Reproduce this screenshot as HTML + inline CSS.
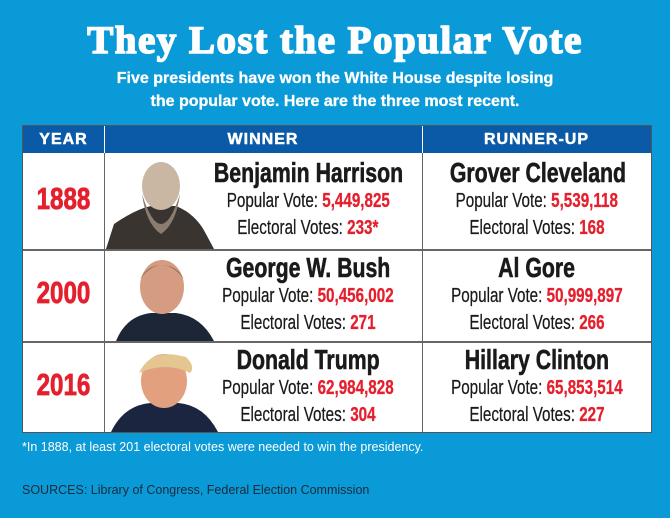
<!DOCTYPE html>
<html><head><style>
body{margin:0;width:670px;height:518px;background:#0a9ad8;font-family:"Liberation Sans",sans-serif;position:relative;overflow:hidden}
.abs{position:absolute}
.title{left:0;width:670px;top:18px;text-align:center;color:#fff;font-family:"Liberation Serif",serif;font-weight:bold;font-size:39px;letter-spacing:1.5px;-webkit-text-stroke:1.6px #fff}
.sub{left:0;width:670px;top:67px;text-align:center;color:#fff;font-weight:bold;font-size:16px;line-height:23px;-webkit-text-stroke:.3px #fff}
.tbl{left:22px;top:125px;width:628px;height:306px;background:#fff;border:1px solid #555}
.hdr{left:0;top:0;width:628px;height:27px;background:#0a5aa8}
.h{top:5px;color:#fff;font-weight:bold;font-size:16px;text-align:center;letter-spacing:1px;-webkit-text-stroke:.5px #fff}
.vl{width:1px;background:#666}
.hl{height:2px;background:#666;left:0;width:628px}
.yr{color:#e5202e;font-weight:bold;font-size:31px;text-align:center;width:81px;left:0;-webkit-text-stroke:.8px #e5202e}
.c{text-align:center;white-space:nowrap}
.c span{display:inline-block;transform:scaleX(.76);transform-origin:center}
.nm{font-weight:bold;font-size:28px;color:#1a1a1a;line-height:30px;-webkit-text-stroke:.6px #1a1a1a}
.ln{font-size:20px;color:#1a1a1a;line-height:27px;-webkit-text-stroke:.25px #1a1a1a}
.r{color:#e5202e;font-weight:bold;-webkit-text-stroke:.3px #e5202e}
</style></head><body>
<div class="abs title">They Lost the Popular Vote</div>
<div class="abs sub">Five presidents have won the White House despite losing<br>the popular vote. Here are the three most recent.</div>
<div class="abs tbl">
 <div class="abs hdr"></div>
 <div class="abs h" style="left:0;width:81px">YEAR</div>
 <div class="abs h" style="left:81px;width:318px">WINNER</div>
 <div class="abs h" style="left:399px;width:229px">RUNNER-UP</div>
 <div class="abs vl" style="left:81px;top:0;height:306px;background:#fff;width:1px"></div>
 <div class="abs vl" style="left:81px;top:27px;height:279px"></div>
 <div class="abs vl" style="left:399px;top:0;height:27px;background:#fff"></div>
 <div class="abs vl" style="left:399px;top:27px;height:279px"></div>
 <div class="abs hl" style="top:123px"></div>
 <div class="abs hl" style="top:215px"></div>
 <div class="abs yr" style="top:55px"><span style="display:inline-block;transform:scaleX(.78)">1888</span></div>
 <div class="abs yr" style="top:149px"><span style="display:inline-block;transform:scaleX(.78)">2000</span></div>
 <div class="abs yr" style="top:241px"><span style="display:inline-block;transform:scaleX(.78)">2016</span></div>
 <svg class="abs" style="left:83px;top:28px" width="116" height="95">
  <path d="M0 95 L8 70 Q30 55 45 52 L70 52 Q90 60 100 80 L108 95Z" fill="#3a3430"/>
  <ellipse cx="55" cy="32" rx="19" ry="24" fill="#c9b7a3"/>
  <path d="M36 40 Q55 100 74 40 Q70 70 55 80 Q40 70 36 40Z" fill="#8a7d70"/>
 </svg>
 <svg class="abs" style="left:83px;top:125px" width="116" height="90">
  <path d="M10 90 Q20 65 45 62 L70 62 Q95 65 108 90Z" fill="#1c2636"/>
  <ellipse cx="56" cy="36" rx="22" ry="27" fill="#d59c82"/>
  <path d="M34 28 Q56 0 78 28 Q70 14 56 14 Q42 14 34 28Z" fill="#7a6a5e"/>
 </svg>
 <svg class="abs" style="left:83px;top:217px" width="116" height="89">
  <path d="M5 89 Q18 62 45 60 L72 60 Q98 62 112 89Z" fill="#1b2540"/>
  <ellipse cx="58" cy="38" rx="23" ry="27" fill="#e2a07f"/>
  <path d="M33 30 Q45 4 80 14 Q90 24 84 30 Q60 18 33 30Z" fill="#e4c690"/>
 </svg>
 <div class="abs c" style="left:155px;width:260px;top:32px"><div class="nm"><span>Benjamin Harrison</span></div><div class="ln"><span>Popular Vote: <b class="r">5,449,825</b></span></div><div class="ln"><span>Electoral Votes: <b class="r">233*</b></span></div></div>
 <div class="abs c" style="left:155px;width:260px;top:127px"><div class="nm"><span>George W. Bush</span></div><div class="ln"><span>Popular Vote: <b class="r">50,456,002</b></span></div><div class="ln"><span>Electoral Votes: <b class="r">271</b></span></div></div>
 <div class="abs c" style="left:155px;width:260px;top:219px"><div class="nm"><span>Donald Trump</span></div><div class="ln"><span>Popular Vote: <b class="r">62,984,828</b></span></div><div class="ln"><span>Electoral Votes: <b class="r">304</b></span></div></div>
 <div class="abs c" style="left:399px;width:229px;top:32px"><div class="nm"><span>Grover Cleveland</span></div><div class="ln"><span>Popular Vote: <b class="r">5,539,118</b></span></div><div class="ln"><span>Electoral Votes: <b class="r">168</b></span></div></div>
 <div class="abs c" style="left:399px;width:229px;top:127px"><div class="nm"><span>Al Gore</span></div><div class="ln"><span>Popular Vote: <b class="r">50,999,897</b></span></div><div class="ln"><span>Electoral Votes: <b class="r">266</b></span></div></div>
 <div class="abs c" style="left:399px;width:229px;top:219px"><div class="nm"><span>Hillary Clinton</span></div><div class="ln"><span>Popular Vote: <b class="r">65,853,514</b></span></div><div class="ln"><span>Electoral Votes: <b class="r">227</b></span></div></div>
</div>
<div class="abs" style="left:22px;top:440px;color:#fff;font-size:12.5px">*In 1888, at least 201 electoral votes were needed to win the presidency.</div>
<div class="abs" style="left:22px;top:483px;color:#1a2a3a;font-size:12.5px">SOURCES: Library of Congress, Federal Election Commission</div>
</body></html>
